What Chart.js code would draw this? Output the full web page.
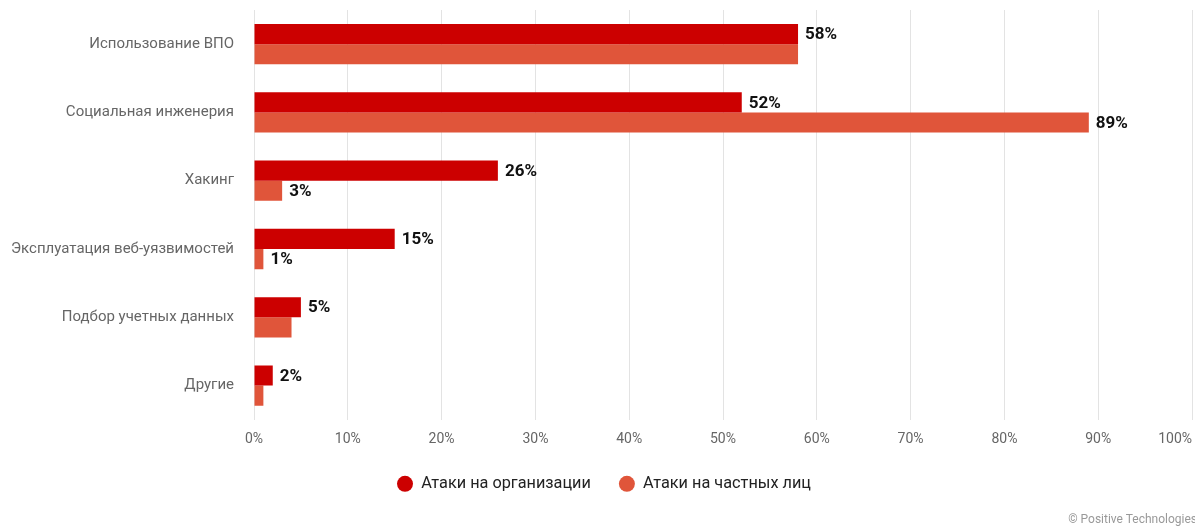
<!DOCTYPE html>
<html>
<head>
<meta charset="utf-8">
<script src="https://cdn.jsdelivr.net/npm/chart.js@4/dist/chart.umd.min.js"></script>
<style>
	body { margin: 0; background: #fff; font-family: Roboto, sans-serif; }
	#wrap { position: relative; width: 1195px; height: 526px; }
	#copy { position: absolute; right: -2px; bottom: 0; font-size: 12px; color: #999; white-space: nowrap; }
</style>
</head>
<body>
<div id="wrap">
	<canvas id="attackChart" width="1195" height="526"></canvas>
	<div id="copy">© Positive Technologies</div>
</div>
<script>
const categories = [
	"Использование ВПО",
	"Социальная инженерия",
	"Хакинг",
	"Эксплуатация веб-уязвимостей",
	"Подбор учетных данных",
	"Другие",
];
const orgValues = [58, 52, 26, 15, 5, 2];
const privValues = [58, 89, 3, 1, 4, 1];
// which bars carry a value label
const orgLabeled = [true, true, true, true, true, true];
const privLabeled = [false, true, true, true, false, false];
const xTicks = [0, 10, 20, 30, 40, 50, 60, 70, 80, 90, 100];

const valueLabels = {
	id: "valueLabels",
	afterDatasetsDraw(chart) {
		const ctx = chart.ctx;
		ctx.save();
		ctx.font = "bold 17px Roboto";
		ctx.fillStyle = "#111";
		ctx.textBaseline = "middle";
		chart.data.datasets.forEach((ds, di) => {
			const meta = chart.getDatasetMeta(di);
			meta.data.forEach((bar, i) => {
				if (!ds.labeled[i]) return;
				ctx.fillText(ds.data[i] + "%", bar.x + 7, bar.y + 1);
			});
		});
		ctx.restore();
	},
};

// the last x tick is drawn right-aligned so it stays inside the canvas
const lastTick = {
	id: "lastTick",
	afterDraw(chart) {
		const x = chart.scales.x;
		const ctx = chart.ctx;
		ctx.save();
		ctx.font = "14px Roboto";
		ctx.fillStyle = "#666";
		ctx.textAlign = "right";
		ctx.textBaseline = "top";
		ctx.fillText(xTicks[xTicks.length - 1] + "%", x.right, x.top + 13);
		ctx.restore();
	},
};

// nudge the legend a little to the right
const legendShift = {
	id: "legendShift",
	afterLayout(chart) {
		if (chart.legend) chart.legend.left += 16;
	},
};

new Chart(document.getElementById("attackChart"), {
	type: "bar",
	data: {
		labels: categories,
		datasets: [
			{
				label: "Атаки на организации",
				data: orgValues,
				labeled: orgLabeled,
				backgroundColor: "#cc0000",
				categoryPercentage: 0.59,
				barPercentage: 1,
			},
			{
				label: "Атаки на частных лиц",
				data: privValues,
				labeled: privLabeled,
				backgroundColor: "#e0553a",
				categoryPercentage: 0.59,
				barPercentage: 1,
			},
		],
	},
	options: {
		indexAxis: "y",
		responsive: false,
		animation: false,
		layout: { padding: { top: 10, right: 3, left: 0, bottom: 24 } },
		plugins: {
			legend: {
				position: "bottom",
				labels: {
					usePointStyle: true,
					pointStyle: "circle",
					pointStyleWidth: 16,
					boxWidth: 11.3,
					boxHeight: 11.3,
					padding: 28,
					color: "#222",
					font: { family: "Roboto", size: 16.3 },
				},
			},
			tooltip: { enabled: false },
		},
		scales: {
			x: {
				min: 0,
				max: 100,
				afterBuildTicks: (axis) => {
					axis.ticks = xTicks.map((v) => ({ value: v }));
				},
				afterFit: (axis) => {
					axis.height = 28;
					axis.paddingLeft = 0;
					axis.paddingRight = 0;
				},
				ticks: {
					color: "#666",
					font: { family: "Roboto", size: 14 },
					padding: 11,
					callback: (v) => (v === 100 ? "" : v + "%"),
				},
				grid: { color: "#e3e3e3", drawTicks: false },
				border: { display: false },
			},
			y: {
				afterFit: (axis) => {
					axis.width = 254;
					axis.paddingTop = 0;
					axis.paddingBottom = 0;
				},
				ticks: {
					color: "#666",
					font: { family: "Roboto", size: 15 },
					padding: 20,
				},
				grid: { display: false, drawTicks: false },
				border: { display: false },
			},
		},
	},
	plugins: [valueLabels, lastTick, legendShift],
});
</script>
</body>
</html>
